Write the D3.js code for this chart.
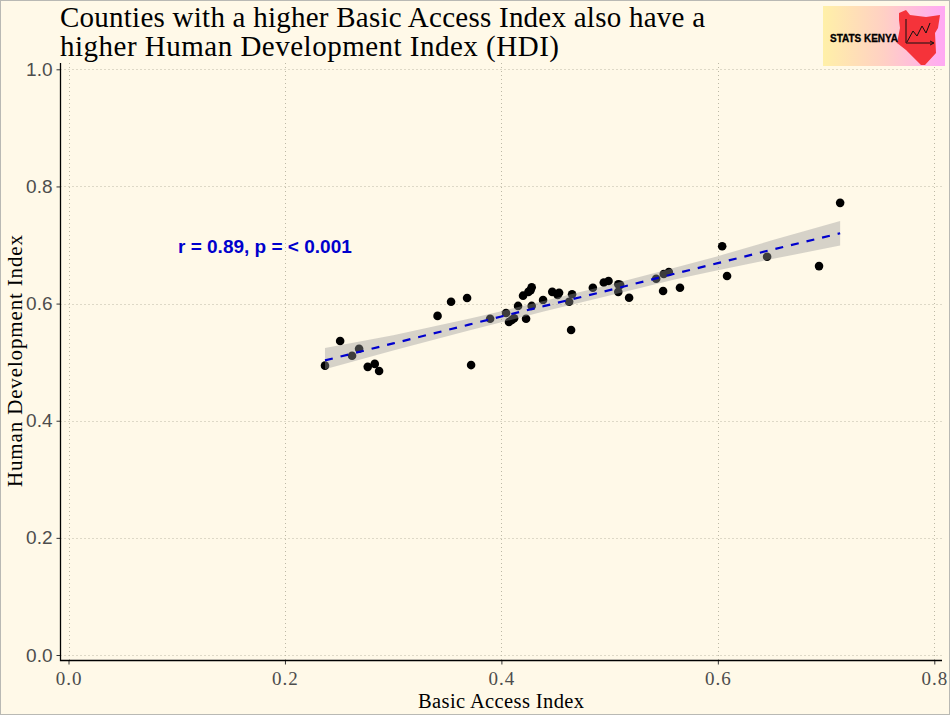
<!DOCTYPE html>
<html>
<head>
<meta charset="utf-8">
<script src="https://cdn.jsdelivr.net/npm/d3@7"></script>
<style>
  html, body { margin: 0; padding: 0; background: #fff9e8; }
  svg { display: block; }
  .serif { font-family: "Liberation Serif", serif; }
  .sans { font-family: "Liberation Sans", Arial, sans-serif; }
</style>
</head>
<body>
<svg id="chart" width="950" height="715"></svg>
<script>
// County values: Basic Access Index and Human Development Index
const basicAccess = [0.237,0.251,0.262,0.2685,0.2765,0.283,0.287,0.341,0.3535,0.3683,0.372,0.3896,0.4043,0.407,0.4096,0.4117,0.4154,0.420,0.4228,0.425,0.427,0.428,0.428,0.4385,0.447,0.452,0.4533,0.4626,0.4644,0.4653,0.4845,0.4946,0.499,0.508,0.5097,0.508,0.518,0.543,0.5494,0.550,0.5547,0.565,0.604,0.6085,0.6455,0.6935,0.713];
const hdi = [0.494,0.536,0.511,0.523,0.492,0.497,0.485,0.579,0.603,0.6095,0.495,0.574,0.584,0.5685,0.572,0.575,0.596,0.6135,0.574,0.620,0.623,0.628,0.596,0.606,0.620,0.6147,0.6186,0.603,0.555,0.616,0.627,0.636,0.6386,0.633,0.632,0.620,0.610,0.6425,0.6215,0.6505,0.654,0.627,0.698,0.647,0.680,0.664,0.772];

// Fitted line and its confidence band
const fitX = [0.237,0.300,0.370,0.400,0.440,0.500,0.560,0.600,0.650,0.713];
const fitY = [0.503,0.532,0.564,0.578,0.596,0.623,0.651,0.669,0.692,0.720];
const fitLow = [0.488,0.520,0.554,0.568,0.587,0.614,0.641,0.657,0.676,0.699];
const fitHigh = [0.524,0.546,0.574,0.587,0.605,0.632,0.661,0.681,0.708,0.741];

const xTicks = [0, 0.2, 0.4, 0.6, 0.8];
const yTicks = [0, 0.2, 0.4, 0.6, 0.8, 1.0];
const titleLines = ["Counties with a higher Basic Access Index also have a", "higher Human Development Index (HDI)"];
const statLabel = "r = 0.89, p = < 0.001";
const xTitle = "Basic Access Index";
const yTitle = "Human Development Index";
const logoText = "STATS KENYA";

const svg = d3.select("#chart");
const paper = "#fff9e8", inkGrey = "#4d4d4d", gridGrey = "#bdb9a6";

const plot = { left: 60.5, right: 942, top: 63, bottom: 660.5 };
const x = d3.scaleLinear().domain([0, 0.8]).range([68.5, 934.3]);
const y = d3.scaleLinear().domain([0, 1]).range([655, 69.3]);

// Page background and thin outer frame
svg.append("rect").attr("width", 950).attr("height", 715).attr("fill", paper);
svg.append("rect").attr("x", 0.5).attr("y", 0.5).attr("width", 949).attr("height", 714)
  .attr("fill", "none").attr("stroke", "#b9b9b4");

// Dotted grid
const grid = svg.append("g").attr("stroke", gridGrey).attr("stroke-width", 1).attr("stroke-dasharray", "1 3");
grid.selectAll(".gx").data(xTicks).join("line")
  .attr("x1", d => Math.round(x(d)) + 0.5).attr("x2", d => Math.round(x(d)) + 0.5)
  .attr("y1", plot.top).attr("y2", plot.bottom);
grid.selectAll(".gy").data(yTicks).join("line")
  .attr("y1", d => Math.round(y(d)) + 0.5).attr("y2", d => Math.round(y(d)) + 0.5)
  .attr("x1", plot.left).attr("x2", plot.right);

// County points
svg.append("g").selectAll("circle").data(basicAccess).join("circle")
  .attr("cx", d => x(d))
  .attr("cy", (d, i) => y(hdi[i]))
  .attr("r", 4.3)
  .attr("fill", "#000");

// Confidence band, drawn over the points
const band = d3.area().x(d => x(d[0])).y0(d => y(d[1])).y1(d => y(d[2]));
svg.append("path")
  .datum(fitX.map((v, i) => [v, fitLow[i], fitHigh[i]]))
  .attr("d", band)
  .attr("fill", "#999999").attr("fill-opacity", 0.4);

// Fitted line
const fitLine = d3.line().x(d => x(d[0])).y(d => y(d[1]));
svg.append("path")
  .datum(fitX.map((v, i) => [v, fitY[i]]))
  .attr("d", fitLine)
  .attr("fill", "none").attr("stroke", "#0000cd").attr("stroke-width", 2.2)
  .attr("stroke-dasharray", "8 8");

// Axes
const xAxis = svg.append("g").attr("transform", `translate(0,${plot.bottom})`)
  .call(d3.axisBottom(x).tickValues(xTicks).tickFormat(d3.format(".1f")).tickSize(4).tickSizeOuter(0));
const yAxis = svg.append("g").attr("transform", `translate(${plot.left},0)`)
  .call(d3.axisLeft(y).tickValues(yTicks).tickFormat(d3.format(".1f")).tickSize(4).tickSizeOuter(0));
xAxis.select(".domain").remove();
yAxis.select(".domain").remove();
xAxis.selectAll("line").attr("stroke", "#333");
yAxis.selectAll("line").attr("stroke", "#333");
xAxis.selectAll("text").attr("class", "serif").attr("font-size", 19).attr("fill", inkGrey).attr("dy", "0.9em").attr("letter-spacing", 1);
yAxis.selectAll("text").attr("class", "sans").attr("font-size", 19).attr("fill", inkGrey).attr("dx", "-1px");

// Panel spines
svg.append("path")
  .attr("d", `M${plot.left},${plot.top}V${plot.bottom}H${plot.right}`)
  .attr("fill", "none").attr("stroke", "#000").attr("stroke-width", 1.3);

// Titles, each line fitted to its measured run
const titleWidths = [645, 499];
svg.append("g").selectAll("text").data(titleLines).join("text")
  .attr("class", "serif").attr("x", 60).attr("y", (d, i) => 27 + i * 29)
  .attr("font-size", 29).attr("fill", "#000")
  .attr("textLength", (d, i) => titleWidths[i]).attr("lengthAdjust", "spacing")
  .text(d => d);
svg.append("text").attr("class", "serif").attr("x", 418).attr("y", 708)
  .attr("font-size", 20.5).attr("fill", "#000")
  .attr("textLength", 166).attr("lengthAdjust", "spacing").text(xTitle);
svg.append("text").attr("class", "serif")
  .attr("transform", "translate(22,487) rotate(-90)")
  .attr("font-size", 21).attr("fill", "#000")
  .attr("textLength", 252).attr("lengthAdjust", "spacing").text(yTitle);

// Correlation annotation
svg.append("text").attr("class", "sans").attr("x", 178).attr("y", 253)
  .attr("font-size", 19).attr("font-weight", "bold").attr("fill", "#0000cd").text(statLabel);

// Badge in the top right corner
const defs = svg.append("defs");
const grad = defs.append("linearGradient").attr("id", "badgeFill");
grad.append("stop").attr("offset", "0%").attr("stop-color", "#fff0a8");
grad.append("stop").attr("offset", "50%").attr("stop-color", "#ffd0c4");
grad.append("stop").attr("offset", "100%").attr("stop-color", "#ffa8f4");

const badge = svg.append("g").attr("transform", "translate(823,6)");
badge.append("rect").attr("width", 122).attr("height", 60).attr("fill", "url(#badgeFill)");
badge.append("path")
  .attr("d", "M76,7 L83,4 L87,9 L103,11 L117,9 L115,22 L112,27 L113,47 L102,59 L98,59 L83,44 L74,37 L77,22 L76,14 Z")
  .attr("fill", "#f5333a");
badge.append("path")
  .attr("d", "M83,13 V37 H110 M107,35 L111,37 L107,39 M84,36 L90,25 L94,30 L99,20 L103,27 L107,17")
  .attr("fill", "none").attr("stroke", "#111").attr("stroke-width", 1);
badge.append("text").attr("class", "sans").attr("x", 7).attr("y", 36)
  .attr("font-size", 10).attr("font-weight", "bold").attr("fill", "#000")
  .attr("stroke", "#000").attr("stroke-width", 0.3)
  .attr("textLength", 68).attr("lengthAdjust", "spacing").text(logoText);
</script>
</body>
</html>
